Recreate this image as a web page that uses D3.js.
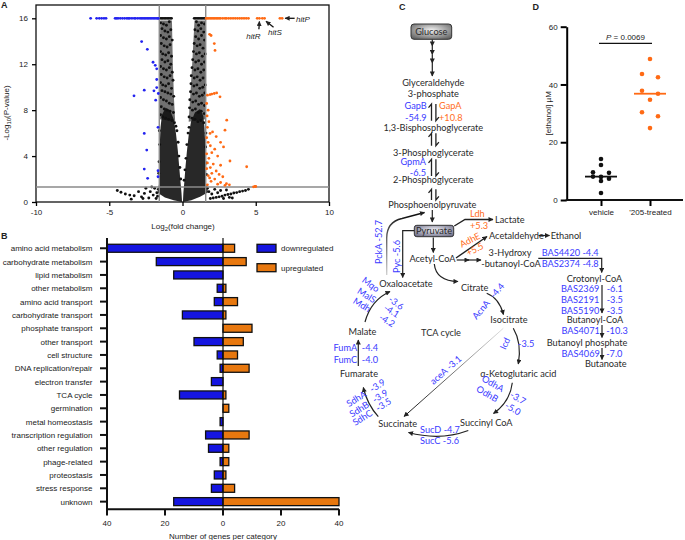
<!DOCTYPE html>
<html><head><meta charset="utf-8">
<script src="https://cdn.jsdelivr.net/npm/d3@7"></script>
<style>
body{margin:0;background:#fff}
svg text{font-family:"Liberation Sans",Arial,sans-serif;fill:#222}
.pw text{font-family:Lato,"Open Sans",sans-serif}
</style></head><body><svg id="fig" width="685" height="540"></svg>
<script>
// ---------------- data ----------------
// A: volcano plot (log2 fold change, -log10 P); P-values capped at 16
const downRow16 = [-6.27,-5.86,-5.68,-5.52,-5.36,-5.22,-4.6,-4.5,-4.4,-4.25,-4.1,-3.95,-3.8,-3.7,-3.6,-3.45,-3.3,-3.2,-3.05,-2.9,-2.8,-2.7,-2.6,-2.5,-2.4,-2.3,-2.2,-2.1,-2.0,-1.9,-1.8,-1.7,-1.65];
const upRow16 = [1.62,1.7,1.8,1.9,2.0,2.1,2.2,2.3,2.4,2.5,2.6,2.75,2.9,3.0,3.15,3.3,3.45,3.6,3.75,3.9,4.05,4.2,4.35,4.5,5.1,5.25,5.45,5.6,6.65,6.8];
const nsRow16 = [-1.55,-1.45,-1.35,-1.25,-1.15,-1.05,-0.95,-0.85,-0.75,0.8,0.9,1.0,1.1,1.2,1.3,1.4,1.5];
const downPts = [[-2.79,13.97],[-2.4,13.3],[-2.01,12.17],[-1.86,11.9],[-1.76,11.6],[-1.76,10.67],[-1.76,9.97],[-1.95,9.68],[-2.61,9.74],[-3.31,9.25],[-1.83,8.87],[-1.65,9.45],[-1.67,6.5],[-2.61,5.97],[-2.44,4.52],[-2.61,2.87],[-1.67,2.72],[-2.38,2.06],[-1.67,2.2]];
const upPts = [[1.85,14.6],[1.95,14.5],[2.17,13.8],[2.22,13.2],[1.7,9.3],[1.88,9.36],[2.0,9.4],[2.17,9.45],[2.33,9.5],[2.56,9.16],[1.65,8.58],[1.75,8.0],[1.68,7.5],[1.8,7.0],[3.02,7.13],[1.7,6.5],[2.9,6.26],[1.88,5.97],[2.05,6.1],[1.65,5.6],[2.3,5.7],[1.75,5.2],[2.6,5.2],[1.9,4.9],[2.2,4.6],[2.8,4.8],[2.0,4.3],[1.65,4.2],[2.4,4.0],[1.8,3.8],[3.24,3.57],[1.7,3.4],[2.1,3.3],[2.6,3.2],[1.9,3.0],[4.38,3.07],[1.65,2.9],[2.3,2.7],[2.0,2.5],[1.75,2.3],[2.5,2.4],[1.85,2.1],[2.75,2.2],[2.2,2.0],[1.95,1.8],[2.6,1.7],[2.4,1.55],[3.0,1.6],[3.2,1.5],[2.9,1.45],[1.7,1.5],[4.85,1.32],[5.0,1.35],[4.95,1.36]];
const nsPts = [
 [-1.5,15.6],[-1.3,15.5],[-1.1,15.4],[-0.9,15.7],[-1.4,15.1],[-1.2,14.9],[-1.0,14.8],[-0.8,15.0],[-1.5,14.5],[-1.3,14.3],[-1.1,14.2],[-0.9,14.4],[-0.7,14.1],[-1.45,13.8],[-1.25,13.6],[-1.05,13.5],[-0.85,13.7],[-1.5,13.1],[-1.35,12.9],[-1.15,12.8],[-0.95,13.0],[-0.75,12.7],[-1.4,12.4],[-1.2,12.2],[-1.0,12.3],[-0.8,12.0],[-1.5,11.8],[-1.3,11.6],[-1.1,11.5],[-0.9,11.7],[-0.7,11.3],[-1.45,11.1],[-1.25,10.9],[-1.05,10.8],[-0.85,11.0],[-0.65,10.6],[-1.5,10.4],[-1.35,10.2],[-1.15,10.1],[-0.95,10.3],[-0.75,9.9],[-1.4,9.7],[-1.2,9.6],[-1.0,9.5],[-0.8,9.4],[-0.6,9.2],[-1.5,9.1],[-1.3,8.9],[-1.1,8.8],[-0.9,8.6],[-0.7,8.5],[-1.45,8.3],[-1.25,8.1],[-1.05,8.0],[-0.85,7.9],[-0.62,7.8],[-1.5,7.6],[-1.35,7.4],[-1.15,7.3],[-0.95,7.2],[-0.72,7.1],[-0.55,6.9],
 [0.95,15.7],[1.1,15.4],[1.3,15.6],[1.5,15.5],[0.85,15.0],[1.05,14.9],[1.25,15.1],[1.45,14.8],[0.9,14.4],[1.1,14.2],[1.3,14.5],[1.5,14.1],[0.8,13.8],[1.0,13.6],[1.2,13.7],[1.4,13.4],[0.75,13.1],[0.95,12.9],[1.15,13.0],[1.35,12.7],[1.55,12.9],[0.7,12.4],[0.9,12.2],[1.1,12.3],[1.3,12.0],[1.5,12.2],[0.65,11.7],[0.85,11.5],[1.05,11.6],[1.25,11.3],[1.45,11.5],[0.6,11.0],[0.8,10.8],[1.0,10.9],[1.2,10.6],[1.4,10.8],[0.58,10.3],[0.78,10.1],[0.98,10.2],[1.18,9.9],[1.38,10.0],[1.55,10.2],[0.55,9.6],[0.75,9.4],[0.95,9.5],[1.15,9.2],[1.35,9.3],[1.52,9.5],[0.5,8.9],[0.7,8.7],[0.9,8.8],[1.1,8.5],[1.3,8.6],[1.5,8.4],[0.48,8.2],[0.68,8.0],[0.88,8.1],[1.08,7.8],[1.28,7.9],[1.48,7.7],[0.45,7.4],[0.65,7.3],[0.85,7.2],[1.05,7.0],[1.25,7.1],[1.45,6.9],
 [-4.45,1.0],[-4.2,0.85],[-3.9,0.7],[-3.6,0.6],[-3.3,0.55],[-3.0,0.9],[-2.8,0.45],[-2.6,0.75],[-2.5,1.2],[-2.3,0.35],[-2.2,0.9],[-2.0,0.6],[-1.9,1.2],[-1.8,0.3],[-1.75,0.8],[-2.7,0.3],[-3.5,0.25],[-2.1,1.3],[-1.65,1.1],[-1.7,0.5],
 [4.5,1.1],[4.3,1.0],[4.1,0.95],[3.9,0.9],[3.7,0.82],[3.5,0.78],[3.3,0.7],[3.1,0.65],[2.9,0.6],[2.7,0.5],[2.5,0.45],[2.3,0.4],[2.1,0.35],[1.9,0.3],[3.2,0.4],[2.8,0.3],[2.4,0.8],[2.0,0.7],[1.8,0.9],[1.7,1.2],[2.2,1.1],[2.6,1.0],[3.0,1.05],[3.4,0.35],
 [-1.58,6.2],[-1.56,5.0],[-1.6,3.5],[-1.62,2.5],[-0.38,6.2],[-0.45,6.6],[-0.3,5.2],[-0.25,4.0],[-0.18,3.0],[-0.12,2.0],
 [1.6,6.0],[1.58,4.8],[1.62,3.4],[1.63,2.4],[0.38,6.0],[0.45,6.5],[0.3,5.0],[0.24,3.8],[0.17,2.8],[0.11,1.9]];
const nsCoreLeft = [[-0.03,0.0],[-0.6,0.15],[-1.2,0.4],[-1.7,0.8],[-1.6,1.6],[-1.55,3],[-1.55,5],[-1.5,6.5],[-1.4,7.6],[-1.15,8.2],[-0.85,8.0],[-0.6,7.2],[-0.45,6],[-0.32,4.5],[-0.22,3],[-0.14,1.8],[-0.07,0.8]];
const nsCoreRight = [[0.03,0.0],[0.6,0.15],[1.2,0.45],[1.75,0.85],[1.6,1.6],[1.58,3],[1.55,5],[1.5,6.5],[1.42,7.5],[1.2,8.1],[0.85,7.8],[0.58,7.0],[0.42,5.8],[0.3,4.4],[0.2,3],[0.13,1.8],[0.06,0.8]];
const nsUpperLeft = [[-1.55,7.2],[-1.56,11],[-1.52,15.8],[-0.72,15.8],[-0.66,12],[-0.58,9],[-0.5,7]];
const nsUpperRight = [[0.42,7],[0.52,9],[0.66,12],[0.82,15.8],[1.56,15.8],[1.57,11],[1.55,7.2]];
const foldCut = 1.585, pCut = 1.3;
const volcanoXTicks = [-10,-5,0,5,10];
const volcanoYTicks = [0,4,8,12,16];
const hitNames = ["hitR","hitS","hitP"];
const hitFold = [5.25,5.6,6.8];

// B: functional categories of regulated genes
const categories = ["amino acid metabolism","carbohydrate metabolism","lipid metabolism","other metabolism","amino acid transport","carbohydrate transport","phosphate transport","other transport","cell structure","DNA replication/repair","electron transfer","TCA cycle","germination","metal homeostasis","transcription regulation","other regulation","phage-related","proteostasis","stress response","unknown"];
const downCounts = [40,23,17,2,3,14,0,10,2,1,4,15,0,1,6,5,1,3,4,17];
const upCounts   = [4,8,0,1,5,1,10,7,5,9,0,1,2,0,9,2,2,1,4,40];
const barTicks = [-40,-20,0,20,40];

// C: enzymes and fold changes
const enzymes = ["GapB","GapA","GpmA","PckA","Pyc","Ldh","AdhE","AcnA","Icd","aceA","OdhA","OdhB","SucD","SucC","SdhA","SdhB","SdhC","FumA","FumC","Mqo","MalS","Mdh","BAS4420","BAS2374","BAS2369","BAS2191","BAS5190","BAS4071","BAS4069"];
const enzymeFold = [-54.9,10.8,-6.5,-52.7,-5.6,5.3,5.5,-4.4,-3.5,-3.1,-3.7,-5.0,-4.7,-5.6,-3.9,-3.9,-3.5,-4.4,-4.0,-3.6,-4.1,-4.2,-4.4,-4.8,-6.1,-3.5,-3.5,-10.3,-7.0];

// D: ethanol
const groups = ["vehicle","'205-treated"];
const vehicleEthanol = [14.2,12.1,9.6,9.4,8.1,8.0,7.4,6.6,2.4];
const treatedEthanol = [48.8,43.6,42.5,37.8,36.8,34.7,30.4,29.0,24.9];
const ethanolTicks = [0,20,40,60];
const pText = "0.0069";

// ---------------- drawing ----------------
const BLUE = "#2323f0", ORANGE = "#ff6a14", BARBLUE = "#1515e0", BARORANGE = "#e8780f";
const TBLUE = "#3a3aff", TORANGE = "#ff6d1c";
const svg = d3.select("#fig");
const defs = svg.append("defs");
defs.append("marker").attr("id","ah").attr("viewBox","0 0 10 10").attr("refX",9).attr("refY",5)
  .attr("markerWidth",5.5).attr("markerHeight",5).attr("markerUnits","userSpaceOnUse").attr("orient","auto")
  .append("path").attr("d","M0,0L10,5L0,10z").attr("fill","#222");

function panelLabel(t,x,y){ svg.append("text").attr("x",x).attr("y",y).attr("font-size",9).attr("font-weight","bold").text(t); }
panelLabel("A",1,8); panelLabel("B",1,239); panelLabel("C",399,9.5); panelLabel("D",532.5,9.5);

// ---- A ----
const xV = d3.scaleLinear().domain([-10,10]).range([36,329]);
const yV = d3.scaleLinear().domain([0,16]).range([202,18.3]);
const gA = svg.append("g");
gA.append("rect").attr("x",xV(-10)).attr("y",5).attr("width",xV(10)-xV(-10)).attr("height",yV(0)-5)
  .attr("fill","none").attr("stroke","#111").attr("stroke-width",1.3);
const vline = d3.line().x(d=>xV(d[0])).y(d=>yV(d[1]));
[nsUpperLeft,nsUpperRight].forEach(p=>gA.append("path").attr("d",vline(p)+"Z").attr("fill","#111").attr("fill-opacity",0.6));
[nsCoreLeft,nsCoreRight].forEach(p=>gA.append("path").attr("d",vline(p)+"Z").attr("fill","#111").attr("fill-opacity",0.9));
const dot = (data,col,r)=>gA.append("g").selectAll("circle").data(data).join("circle")
  .attr("cx",d=>xV(d[0])).attr("cy",d=>yV(d[1])).attr("r",r).attr("fill",col);
dot(nsPts,"#111",1.45);
dot(nsRow16.map(x=>[x,16]),"#111",1.4);
[-foldCut,foldCut].forEach(f=>gA.append("line").attr("x1",xV(f)).attr("x2",xV(f)).attr("y1",5).attr("y2",yV(0))
  .attr("stroke","#8a8a8a").attr("stroke-width",1.4));
gA.append("line").attr("x1",xV(-10)).attr("x2",xV(10)).attr("y1",yV(pCut)).attr("y2",yV(pCut)).attr("stroke","#8a8a8a").attr("stroke-width",1.4);
dot(downPts,BLUE,1.4); dot(downRow16.map(x=>[x,16]),BLUE,1.4);
dot(upPts,ORANGE,1.4); dot(upRow16.map(x=>[x,16]),ORANGE,1.4);
const axA = gA.append("g").attr("transform",`translate(0,${yV(0)})`)
  .call(d3.axisBottom(xV).tickValues(volcanoXTicks).tickSize(4).tickPadding(3).tickFormat(d=>String(d)));
const ayA = gA.append("g").attr("transform",`translate(${xV(-10)},0)`)
  .call(d3.axisLeft(yV).tickValues(volcanoYTicks).tickSize(4).tickPadding(4).tickFormat(d=>String(d)));
[axA,ayA].forEach(a=>{a.select(".domain").remove(); a.selectAll("line").attr("stroke-width",1.3);
  a.selectAll("text").attr("font-size",8).attr("font-family","Liberation Sans, Arial");});
const tA = gA.append("text").attr("x",183).attr("y",229).attr("text-anchor","middle").attr("font-size",8);
tA.append("tspan").text("Log"); tA.append("tspan").attr("font-size",6).attr("dy",2).text("2"); tA.append("tspan").attr("dy",-2).text("(fold change)");
const tyA = gA.append("text").attr("transform","translate(8.5,113) rotate(-90)").attr("text-anchor","middle").attr("font-size",8);
tyA.append("tspan").text("-Log"); tyA.append("tspan").attr("font-size",6).attr("dy",2).text("10"); tyA.append("tspan").attr("dy",-2).text("(P-value)");
// hit annotations
const hitGeo = [{tip:[0,3.2],tail:[-0.5,11],lab:[-6,20.5],anchor:"middle"},
                {tip:[1.5,3],tail:[9,9],lab:[3.5,17],anchor:"start"},
                {tip:[3,0],tail:[12.5,0],lab:[14,3.5],anchor:"start"}];
hitNames.forEach((h,i)=>{
  const px = xV(hitFold[i]), py = yV(16), g = hitGeo[i];
  gA.append("line").attr("x1",px+g.tail[0]).attr("y1",py+g.tail[1]).attr("x2",px+g.tip[0]).attr("y2",py+g.tip[1])
    .attr("stroke","#111").attr("stroke-width",1.3).attr("marker-end","url(#ah)");
  gA.append("text").attr("x",px+g.lab[0]).attr("y",py+g.lab[1]).attr("text-anchor",g.anchor)
    .attr("font-size",8).attr("font-style","italic").text(h);
});

// ---- B ----
const gB = svg.append("g");
const xB = d3.scaleLinear().domain([-40,40]).range([107,339]);
const yB = d3.scaleBand().domain(categories).range([241.6,508.3]);
const yc = c => yB(c)+yB.bandwidth()/2;
const bh = 8;
const rows = categories.map((c,i)=>({c,down:downCounts[i],up:upCounts[i]}));
gB.selectAll(".dn").data(rows.filter(d=>d.down>0)).join("rect").attr("class","dn")
  .attr("x",d=>xB(-d.down)).attr("width",d=>xB(0)-xB(-d.down)).attr("y",d=>yc(d.c)-bh/2).attr("height",bh)
  .attr("fill",BARBLUE).attr("stroke","#111").attr("stroke-width",1.3);
gB.selectAll(".up").data(rows.filter(d=>d.up>0)).join("rect").attr("class","up")
  .attr("x",xB(0)).attr("width",d=>xB(d.up)-xB(0)).attr("y",d=>yc(d.c)-bh/2).attr("height",bh)
  .attr("fill",BARORANGE).attr("stroke","#111").attr("stroke-width",1.3);
gB.append("line").attr("x1",xB(0)).attr("x2",xB(0)).attr("y1",238).attr("y2",509.3).attr("stroke","#111").attr("stroke-width",1.2);
gB.append("line").attr("x1",xB(-40)).attr("x2",xB(-40)).attr("y1",238).attr("y2",510.3).attr("stroke","#111").attr("stroke-width",2);
gB.append("line").attr("x1",xB(-40)).attr("x2",xB(40)).attr("y1",509.3).attr("y2",509.3).attr("stroke","#111").attr("stroke-width",2);
gB.selectAll(".ct").data(categories).join("line").attr("x1",xB(-40)-7).attr("x2",xB(-40)).attr("y1",yc).attr("y2",yc)
  .attr("stroke","#111").attr("stroke-width",2);
gB.selectAll(".cl").data(categories).join("text").attr("x",92.5).attr("y",d=>yc(d)+3).attr("text-anchor","end")
  .attr("font-size",8).text(d=>d);
gB.selectAll(".bt").data(barTicks).join("line").attr("x1",d=>xB(d)).attr("x2",d=>xB(d)).attr("y1",509.3).attr("y2",515.5)
  .attr("stroke","#111").attr("stroke-width",2);
gB.selectAll(".bl").data(barTicks).join("text").attr("x",d=>xB(d)).attr("y",526).attr("text-anchor","middle")
  .attr("font-size",8).text(d=>Math.abs(d));
gB.append("text").attr("x",xB(0)).attr("y",538.5).attr("text-anchor","middle").attr("font-size",8).text("Number of genes per category");
[["downregulated",BARBLUE,244.3],["upregulated",BARORANGE,263.7]].forEach(([t,c,y])=>{
  gB.append("rect").attr("x",257).attr("y",y).attr("width",19).attr("height",8).attr("fill",c).attr("stroke","#111").attr("stroke-width",1.3);
  gB.append("text").attr("x",281).attr("y",y+7).attr("font-size",8).text(t);
});

// ---- C ----
const gC = svg.append("g").attr("class","pw");
const FS = 9.2;
const fold = new Map(enzymes.map((e,i)=>[e,enzymeFold[i]]));
const fmt = v => (v>0?"+":"-")+Math.abs(v).toFixed(1);
const node = (t,x,y,anchor="middle") => gC.append("text").attr("x",x).attr("y",y).attr("dy","0.35em")
  .attr("text-anchor",anchor).attr("font-size",FS).style("fill","#2a2a2a").text(t);
function radial(id,c0,c1){const g=defs.append("radialGradient").attr("id",id).attr("cx","50%").attr("cy","40%").attr("r","70%");
  g.append("stop").attr("offset","0%").attr("stop-color",c0); g.append("stop").attr("offset","100%").attr("stop-color",c1);}
radial("gbox","#f2f2f2","#5e5e5e"); radial("pbox","#eeeef4","#6a6a84");
gC.append("rect").attr("x",411).attr("y",24).attr("width",40.7).attr("height",15.3).attr("rx",3).attr("fill","url(#gbox)").attr("stroke","#333").attr("stroke-width",1);
gC.append("rect").attr("x",414.3).attr("y",225.3).attr("width",39.4).attr("height",11.4).attr("rx",2.5).attr("fill","url(#pbox)").attr("stroke","#333").attr("stroke-width",1);
const nodes = [["Glucose",431.3,31.8],["Glyceraldehyde",433.3,82.7],["3-phosphate",433.3,94],["1,3-Bisphosphoglycerate",433.3,127.7],
 ["3-Phosphoglycerate",433.3,152.7],["2-Phosphoglycerate",433.3,180],["Phosphoenolpyruvate",432.3,205],["Pyruvate",434,231],
 ["Acetyl-CoA",432.5,259],["Oxaloacetate",406,283.3],["Citrate",474.7,287.3],["Isocitrate",509,320],["TCA cycle",441,333],
 ["\u03b1-Ketoglutaric acid",518.3,373.3],["Succinyl CoA",486.3,422.7],["Succinate",397.7,423.3],["Fumarate",359,374],["Malate",362.5,331.7],
 ["3-Hydroxy",510,252.7],["-butanoyl-CoA",511,264],["Crotonyl-CoA",594.5,279],["Butanoyl-CoA",595,319.7],
 ["Butanoyl phosphate",587,342.3],["Butanoate",605.8,364]];
nodes.forEach(n=>node(n[0],n[1],n[2]));
node("Lactate",495,219.3,"start"); node("Acetaldehyde",489,235.5,"start"); node("Ethanol",550.7,235.5,"start");

const arrow = (d,stroke="#222",w=1.2)=>gC.append("path").attr("d",d).attr("fill","none").attr("stroke",stroke)
  .attr("stroke-width",w).attr("marker-end","url(#ah)");
[[39.5,46],[46,54.5],[54.5,63],[63,76]].forEach(s=>arrow(`M432.3,${s[0]}L432.3,${s[1]}`));
arrow("M432.3,210L432.3,222");
arrow("M433.3,237.5L433.3,252.5");
arrow("M454.3,226L465,219.5L493,219.5",'#222',1.4);
arrow("M456,258L487,236.5",'#222',1.4);
arrow("M456.7,260L469,260"); arrow("M468,260L481,260");
arrow("M414.3,230.7L402.7,230.7L402.7,277.5");
function lingrad(id,x1,y1,x2,y2,c1,c2){const g=defs.append("linearGradient").attr("id",id).attr("gradientUnits","userSpaceOnUse")
  .attr("x1",x1).attr("y1",y1).attr("x2",x2).attr("y2",y2);
  g.append("stop").attr("offset","0%").attr("stop-color",c1); g.append("stop").attr("offset","100%").attr("stop-color",c2);}
lingrad("gpck",386.7,278,405,215,"#dadada","#111"); lingrad("gace",503,328,404,417,"#e0e0e0","#111");
arrow("M386.7,275L386.7,238Q386.7,222 402,218.5L424.5,212.5","url(#gpck)",1.4);
arrow("M434.3,264Q436,281 458,281.5");
arrow("M486.7,293.3Q499,298 503.5,314.5");
arrow("M513.3,328.3Q522,343 518.3,364");
arrow("M512.3,382.7Q510,402 493.5,413.5");
arrow("M468.3,430.5Q440,441 408.5,432.5");
arrow("M378.3,416.7Q367,404 363.3,387.5");
arrow("M358.3,366L358.3,340");
arrow("M365,322Q371,300 390,291.5");
arrow("M503.3,328.3L404,416.5","url(#gace)",1);
arrow("M538.5,235.5L549.5,235.5");
arrow("M538.3,258.3L601.7,258.3L601.7,272.5");
arrow("M602,285L602,313"); arrow("M602,325L602,337.5"); arrow("M602,348L602,359.5");
function harpoon(cx,y1,y2){
  gC.append("path").attr("d",`M${cx-2.2},${y2}L${cx-2.2},${y1}L${cx-5.2},${y1+3.6}`).attr("fill","none").attr("stroke","#222").attr("stroke-width",1.3);
  gC.append("path").attr("d",`M${cx+2.2},${y1}L${cx+2.2},${y2}L${cx+5.2},${y2-3.6}`).attr("fill","none").attr("stroke","#222").attr("stroke-width",1.3);
}
harpoon(433.7,104,120.7); harpoon(433.7,133.3,145.7); harpoon(433.7,159.3,176); harpoon(433.7,189.3,200);

const enzLayout = {
 GapB:{m:"stack",x:426.7,y:106,a:"end"}, GapA:{m:"stack",x:439,y:106,a:"start"}, GpmA:{m:"stack",x:426,y:161.5,a:"end"},
 Ldh:{m:"stack",x:470,y:214,a:"start"}, AdhE:{m:"stackrot",x:470,y:240,r:-27},
 PckA:{m:"inline",x:379,y:242,r:-90}, Pyc:{m:"inline",x:396.7,y:256.5,r:-90},
 AcnA:{m:"split",x:490,y:299,r:-50,g:3}, aceA:{m:"inline",x:445.7,y:370,r:-41.5},
 Icd:{m:"split",x:514,y:343.5,r:0,g:4,nr:-65},
 OdhA:{m:"split",x:507,y:391.7,r:30,g:4.4}, OdhB:{m:"split",x:501.7,y:402.2,r:30,g:4.9},
 SucD:{m:"inline",x:420,y:430,r:0,a:"start"}, SucC:{m:"inline",x:420,y:441,r:0,a:"start"},
 SdhA:{m:"split",x:368,y:391.5,r:-32,g:3}, SdhB:{m:"split",x:370.7,y:402,r:-32,g:3}, SdhC:{m:"split",x:374,y:410.5,r:-32,g:3},
 FumA:{m:"split",x:359.5,y:347.5,r:0,g:2.3}, FumC:{m:"split",x:359.5,y:360,r:0,g:2.3},
 Mqo:{m:"split",x:384,y:294,r:36,g:7}, MalS:{m:"split",x:380,y:303.7,r:32,g:5.6}, Mdh:{m:"split",x:375,y:313,r:32,g:6},
 BAS4420:{m:"inline",x:541.7,y:252.3,r:0,a:"start"}, BAS2374:{m:"inline",x:541.7,y:263.3,r:0,a:"start"},
 BAS2369:{m:"split",x:603,y:289,r:0,g:3.7}, BAS2191:{m:"split",x:603,y:300,r:0,g:3.7}, BAS5190:{m:"split",x:603,y:311,r:0,g:3.7},
 BAS4071:{m:"split",x:603,y:330.7,r:0,g:3.2}, BAS4069:{m:"split",x:603,y:353.3,r:0,g:3.2}
};
enzymes.forEach(e=>{
  const L = enzLayout[e], v = fold.get(e), col = v>0 ? TORANGE : TBLUE;
  const g = gC.append("g").attr("transform",`translate(${L.x},${L.y}) rotate(${L.r||0})`);
  const t = (s,x,y,a)=>g.append("text").attr("x",x).attr("y",y).attr("dy","0.35em").attr("text-anchor",a)
    .attr("font-size",FS).style("fill",col).text(s);
  if(L.m==="stack"){ t(e,0,0,L.a); t(fmt(v),0,11.3,L.a); }
  else if(L.m==="stackrot"){ t(e,0,0,"middle"); t(fmt(v),0,10.5,"middle"); }
  else if(L.m==="inline"){ t(e+" "+fmt(v),0,0,L.a||"middle"); }
  else { const n = t(e,-L.g,0,"end"); t(fmt(v),L.g,0,"start");
    if(L.nr){ n.attr("text-anchor","middle").attr("x",-L.g-5).attr("transform",`rotate(${L.nr},${-L.g-5},0)`); } }
});

// ---- D ----
const gD = svg.append("g");
const yD = d3.scaleLinear().domain([0,60]).range([200,26.7]);
const xD = d3.scalePoint().domain(groups).range([601,650]);
const axL = gD.append("g").attr("transform","translate(566.7,0)")
  .call(d3.axisLeft(yD).tickValues(ethanolTicks).tickSize(6).tickSizeOuter(0).tickPadding(3));
axL.select(".domain").attr("stroke-width",2); axL.selectAll("line").attr("stroke-width",2);
axL.selectAll("text").attr("font-size",8).attr("font-family","Liberation Sans, Arial");
gD.append("line").attr("x1",565.7).attr("x2",683).attr("y1",200).attr("y2",200).attr("stroke","#111").attr("stroke-width",2);
const axBt = gD.append("g").attr("transform","translate(0,200)").call(d3.axisBottom(xD).tickSize(6).tickPadding(3));
axBt.select(".domain").remove(); axBt.selectAll("line").attr("stroke-width",2);
axBt.selectAll("text").attr("font-size",8).attr("font-family","Liberation Sans, Arial");
gD.append("text").attr("transform","translate(550.5,113.3) rotate(-90)").attr("text-anchor","middle").attr("font-size",8).text("[ethanol] \u00b5M");
function swarm(vals,cx,step,minGap){
  const s = vals.map(v=>({v,py:yD(v)})).sort((a,b)=>a.py-b.py);
  const grp=[]; let cur=[];
  s.forEach(d=>{ if(cur.length && d.py-cur[0].py>minGap){grp.push(cur);cur=[];} cur.push(d); });
  if(cur.length) grp.push(cur);
  grp.forEach(g=>{ const n=g.length;
    const offs = n%2 ? d3.range(n).map(i=>i-(n-1)/2) : d3.range(n).map(i=>i<n/2 ? i-n/2 : i-n/2+1);
    g.forEach((d,i)=>d.px=cx+offs[i]*step); });
  return s;
}
[[vehicleEthanol,"#111"],[treatedEthanol,ORANGE]].forEach(([vals,col],gi)=>{
  const cx = xD(groups[gi]);
  gD.append("g").selectAll("circle").data(swarm(vals,cx,8,4.2)).join("circle")
    .attr("cx",d=>d.px).attr("cy",d=>d.py).attr("r",2.3).attr("fill",col);
  const m = yD(d3.median(vals));
  gD.append("line").attr("x1",cx-16).attr("x2",cx+16).attr("y1",m).attr("y2",m).attr("stroke",col).attr("stroke-width",1.8);
});
const yP = yD(54.2);
gD.append("line").attr("x1",xD(groups[0])-2).attr("x2",xD(groups[1])+2).attr("y1",yP).attr("y2",yP).attr("stroke","#111").attr("stroke-width",1.2);
const tp = gD.append("text").attr("x",(xD(groups[0])+xD(groups[1]))/2).attr("y",yP-3).attr("text-anchor","middle").attr("font-size",8);
tp.append("tspan").attr("font-style","italic").text("P"); tp.append("tspan").text(" = "+pText);
</script></body></html>
